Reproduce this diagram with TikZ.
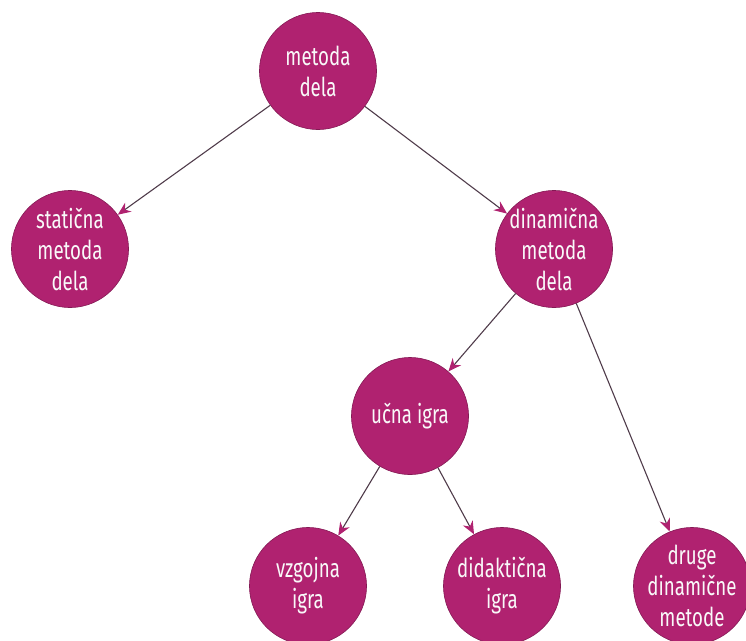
\documentclass[tikz,border=0pt]{standalone}
\usepackage{fontspec}
\setmainfont[FakeStretch=0.72]{Fira Sans}
\usetikzlibrary{arrows.meta}
\definecolor{mag}{RGB}{176,34,112}
\definecolor{pero}{RGB}{80,60,75}

\begin{document}
\begin{tikzpicture}[x=1pt,y=-1pt,
   krog/.style={circle,fill=mag,draw=mag!75!black,line width=0.6pt,minimum size=117pt,
      inner sep=-15pt,align=center,text=white!95!gray,font=\fontsize{26}{31}\selectfont},
   puscica/.style={draw=pero,line width=1.1pt,-{Stealth[length=13pt,width=11pt,fill=mag,color=mag]}}]
   \useasboundingbox (0,0) rectangle (746,640);

   \node[krog] (metoda)     at (318,71)  {metoda\\dela};
   \node[krog] (staticna)   at (70,249)  {statična\\metoda\\dela};
   \node[krog] (dinamicna)  at (554,249) {dinamična\\metoda\\dela};
   \node[krog] (ucna)       at (410,416) {učna igra};
   \node[krog] (vzgojna)    at (308,586) {vzgojna\\igra};
   \node[krog] (didakticna) at (502,586) {didaktična\\igra};
   \node[krog] (druge)      at (692,586) {druge\\dinamične\\metode};

   \draw[puscica] (metoda) -- (staticna);
   \draw[puscica] (metoda) -- (dinamicna);
   \draw[puscica] (dinamicna) -- (ucna);
   \draw[puscica] (dinamicna) -- (druge);
   \draw[puscica] (ucna) -- (vzgojna);
   \draw[puscica] (ucna) -- (didakticna);
\end{tikzpicture}
\end{document}
